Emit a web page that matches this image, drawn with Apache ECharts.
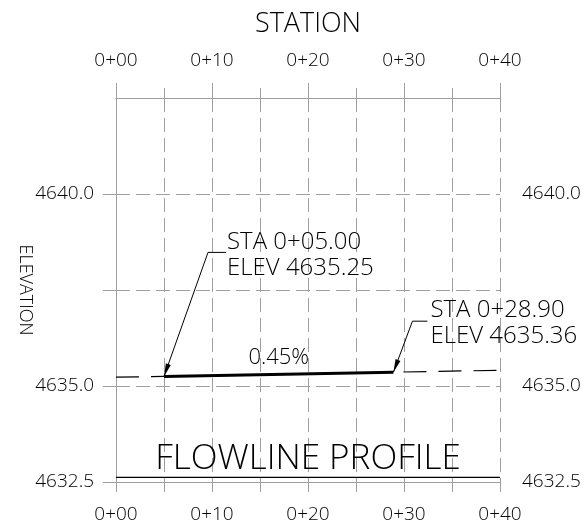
<!DOCTYPE html>
<html>
<head>
<meta charset="utf-8">
<script src="https://cdn.jsdelivr.net/npm/echarts@6/dist/echarts.min.js"></script>
<style>
html,body{margin:0;padding:0;background:#fff;}
#chart{width:588px;height:528px;}
</style>
</head>
<body>
<div id="chart"></div>
<script>
// ---- data ----
const stationTicks = [0, 10, 20, 30, 40];
const elevTicks = [4632.5, 4635.0, 4640.0];
const elevGridTicks = [4632.5, 4635.0, 4637.5, 4640.0];
const profileStations = [0, 5, 28.9, 40];
const profileElevs = [4635.23, 4635.25, 4635.36, 4635.41];
const baseStations = [0, 40];
const baseElevs = [4632.62, 4632.62];
const slopeText = '0.45%';
const titleText = 'FLOWLINE PROFILE';
const xName = 'STATION';
const yName = 'ELEVATION';

const FONT = "'Open Sans', Inter, sans-serif";
const FW = 300;
const GRID = '#9e9e9e';

function staLabel(v, dec) {
  const h = Math.floor(v / 100);
  const r = v - h * 100;
  let s = r.toFixed(dec);
  if (r < 10) s = '0' + s;
  return h + '+' + s;
}
function pts(xs, ys, a, b) {
  const out = [];
  for (let i = a; i <= b; i++) out.push([xs[i], ys[i]]);
  return out;
}

const chart = echarts.init(document.getElementById('chart'), null, {renderer: 'canvas'});

const xBase = {
  type: 'value', min: 0, max: 40, interval: 5,
  axisLine: {show: true, lineStyle: {color: GRID, width: 1}},
  axisLabel: {
    customValues: stationTicks,
    formatter: v => staLabel(v, 0),
    fontFamily: FONT, fontWeight: FW, fontSize: 19, color: '#000'
  }
};

const yBase = {
  type: 'value', min: 4632.5, max: 4642.5, interval: 2.5,
  axisLine: {show: true, lineStyle: {color: GRID, width: 1}},
  axisTick: {show: true, customValues: elevGridTicks, length: 13, lineStyle: {color: GRID}},
  axisLabel: {
    customValues: elevTicks,
    formatter: v => v.toFixed(1),
    fontFamily: FONT, fontWeight: FW, fontSize: 19, color: '#000', margin: 22
  }
};

const option = {
  animation: false,
  backgroundColor: '#fff',
  grid: {left: 116, right: 88, top: 98, bottom: 46, containLabel: false, outerBoundsMode: 'none'},
  xAxis: [
    Object.assign({}, xBase, {
      position: 'bottom',
      axisTick: {show: true, interval: 0, length: 10, lineStyle: {color: GRID}},
      axisLabel: Object.assign({}, xBase.axisLabel, {margin: 23}),
      splitLine: {show: true, lineStyle: {color: GRID, type: [14, 6], width: 1}}
    }),
    Object.assign({}, xBase, {
      position: 'top', interval: 10,
      name: xName, nameLocation: 'middle', nameGap: 60,
      nameTextStyle: {fontFamily: FONT, fontWeight: FW, fontSize: 27, color: '#000'},
      axisTick: {show: true, length: 15, lineStyle: {color: GRID}},
      minorTick: {show: true, splitNumber: 2, length: 10, lineStyle: {color: GRID}},
      axisLabel: Object.assign({}, xBase.axisLabel, {margin: 28}),
      splitLine: {show: false}
    })
  ],
  yAxis: [
    Object.assign({}, yBase, {
      position: 'left',
      splitLine: {show: true, lineStyle: {color: GRID, type: [14, 6], width: 1}}
    }),
    Object.assign({}, yBase, {
      position: 'right',
      splitLine: {show: false}
    })
  ],
  series: [
    {
      name: 'base', type: 'line', xAxisIndex: 0, yAxisIndex: 0,
      data: pts(baseStations, baseElevs, 0, 1),
      symbol: 'none', silent: true,
      lineStyle: {color: '#000', width: 1.3}
    },
    {
      name: 'extLeft', type: 'line', xAxisIndex: 0, yAxisIndex: 0,
      data: pts(profileStations, profileElevs, 0, 1),
      symbol: 'none', silent: true,
      lineStyle: {color: '#000', width: 1.2, type: [23, 12]}
    },
    {
      name: 'extRight', type: 'line', xAxisIndex: 0, yAxisIndex: 0,
      data: pts(profileStations, profileElevs, 2, 3),
      symbol: 'none', silent: true,
      lineStyle: {color: '#000', width: 1.2, type: [23, 12], dashOffset: 25}
    },
    {
      name: 'design', type: 'line', xAxisIndex: 0, yAxisIndex: 0,
      data: pts(profileStations, profileElevs, 1, 2),
      symbol: 'none', silent: true,
      lineStyle: {color: '#000', width: 3}
    }
  ]
};
chart.setOption(option);

// ---- annotations (anchored to data points / axes) ----
function px(x, y) { return chart.convertToPixel({xAxisIndex: 0, yAxisIndex: 0}, [x, y]); }

const callouts = [
  {i: 1, bend: [44, -124], end: [62, -124], text: [63, -121]},
  {i: 2, bend: [19, -51], end: [34, -51], text: [37, -49]}
];
const g = [];
callouts.forEach(c => {
  const tip = px(profileStations[c.i], profileElevs[c.i]);
  const bend = [tip[0] + c.bend[0], tip[1] + c.bend[1]];
  const end = [tip[0] + c.end[0], tip[1] + c.end[1]];
  g.push({type: 'polyline', shape: {points: [end, bend, tip]}, style: {stroke: '#000', lineWidth: 1, fill: null}, silent: true});
  const dx = tip[0] - bend[0], dy = tip[1] - bend[1];
  const L = Math.hypot(dx, dy), ux = dx / L, uy = dy / L;
  const hl = 13, hw = 2.6;
  const bx = tip[0] - ux * hl, by = tip[1] - uy * hl;
  g.push({type: 'polygon', shape: {points: [tip, [bx - uy * hw, by + ux * hw], [bx + uy * hw, by - ux * hw]]}, style: {fill: '#000'}, silent: true});
  const txt = 'STA ' + staLabel(profileStations[c.i], 2) + '\nELEV ' + profileElevs[c.i].toFixed(2);
  g.push({type: 'text', x: tip[0] + c.text[0], y: tip[1] + c.text[1], silent: true,
    style: {text: txt, font: FW + ' 24px ' + FONT, fill: '#000', align: 'left', verticalAlign: 'middle', lineHeight: 26}});
});
// slope label at middle of design segment
const midS = (profileStations[1] + profileStations[2]) / 2;
const midE = (profileElevs[1] + profileElevs[2]) / 2;
const mp = px(midS, midE);
g.push({type: 'text', x: mp[0], y: mp[1] - 17, silent: true,
  style: {text: slopeText, font: FW + ' 22px ' + FONT, fill: '#000', align: 'center', verticalAlign: 'middle'}});
// title
const tp = px(20, 4632.5);
g.push({type: 'text', x: tp[0], y: tp[1] - 23, silent: true,
  style: {text: titleText, font: FW + ' 35px ' + FONT, fill: '#000', align: 'center', verticalAlign: 'middle'}});
// vertical axis name, centred on the left axis span
const yMid = px(0, 4637.5);
g.push({type: 'text', x: yMid[0] - 91, y: yMid[1], rotation: -Math.PI / 2, silent: true,
  style: {text: yName, font: FW + ' 18px ' + FONT, fill: '#000', align: 'center', verticalAlign: 'middle'}});
chart.setOption({graphic: g});
</script>
</body>
</html>
